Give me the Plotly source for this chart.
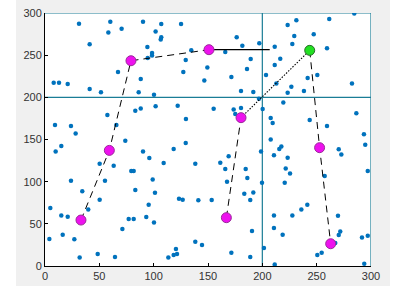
import plotly.graph_objects as go

# Blue scattered points
pts_x = [31.3, 60.1, 58.3, 70.5, 90.2, 107, 101.8, 107, 106.5, 125.2, 41.1, 94.2, 98.5, 98.5, 94.5, 134.6,
         129.5, 67.2, 127.3, 88.1, 8, 12.9, 20.9, 41.1, 51.5, 86.2, 100.3, 83.1, 88.1, 101.8, 122.1, 57.4,
         129.7, 9.2, 65.7, 23.9, 28.2, 73.9, 129.5,
         284.6, 261.6, 231.3, 223.3, 247.3, 229.4, 227.6, 176.4, 181.6, 197.2, 211.4, 165.9, 259.5, 189.3,
         216.5, 149.4, 185.9, 211.4, 171.5, 146.6, 203.4, 241.7, 250.6, 226.7, 212.9, 223.3, 238.3, 282.5,
         180.4, 191.7, 196.9, 155.2, 173.6, 180.4, 175.1, 200.3, 219.3, 207.7, 209.5, 243.6, 259.5, 286.5,
         293.5, 207.7,
         15, 9.8, 90.2, 96, 118.4, 50.3, 63.2, 109.2, 138.3, 79.4, 81.6, 23.9, 55.2, 99.1, 34.3, 83.1, 101.2,
         50.3, 95.4, 123.3, 126.7, 141.1, 4.9, 39.8, 15, 20.9, 93.2, 77, 81.6, 100.3, 71.2, 16.3, 4, 27, 138.3,
         120.5, 118.4, 121.5, 113.5, 48.5, 31.9, 64.4,
         198.8, 210.7, 169, 161.3, 223.3, 215.6, 217.5, 165.9, 184.7, 186.2, 221.5, 225.5, 167.5, 199.7,
         220.6, 183.4, 191.7, 188.9, 153.4, 210.7, 227.6, 235.9, 241.4, 210.7, 218.7, 190.5, 144.5, 201.5,
         171.5, 188.9, 211.4, 270.3, 272.7, 294.7, 297, 257.4, 269.6, 271.7, 270.3, 267.1, 291.7, 297,
         254.6, 250.6, 293.8]
pts_y = [287.3, 289.7, 277, 281.3, 289.7, 287, 278.2, 271.1, 268.5, 287, 262.8, 259.7, 252.6, 249.7, 246.6, 255.7,
         244.3, 230, 230, 221.7, 217.4, 217.4, 215.8, 209.9, 205.9, 205.9, 203.1, 184.2, 186.9, 189.3, 190.1, 179,
         174.3, 167.2, 167.2, 166, 157.2, 148.6, 145.9,
         299.5, 292.9, 291.3, 285.8, 274.7, 272.7, 263.2, 271.1, 261.2, 264, 260, 253.8, 258.2, 245.5,
         245.8, 235.5, 233.6, 238.3, 224.1, 220.1, 226.5, 222.9, 226.5, 212.6, 216.5, 205.5, 207.5, 216.5,
         207.5, 206.3, 198.4, 186.5, 185.7, 187.4, 180.2, 186.2, 194, 175.5, 169.6, 173.1, 166, 181,
         156.1, 150,
         142.3, 135.9, 135.9, 128.1, 138.7, 121.3, 118.9, 122.1, 121.3, 112.6, 112.6, 101.2, 101.2, 102.7, 88.5, 90.1, 86.9,
         78.6, 72.7, 79.8, 78.6, 78, 68.8, 67.1, 60, 58.5, 58.1, 55.7, 55.7, 51.7, 43.8, 37.1, 32, 31.6, 28.8,
         20.1, 13, 14.2, 10.2, 14.2, 10.2, 10.7,
         135.9, 131.2, 130, 122.5, 128.4, 138.7, 141.8, 115, 115, 104.4, 115.7, 109.8, 100, 98.8,
         98.8, 85.7, 87.3, 78.3, 78.3, 60, 60, 67.1, 72.7, 45.1, 37.1, 41.5, 24.9, 21.3,
         15.8, 10.7, 1.9, 138.3, 132.3, 143.8, 112.6, 106.7, 59.6, 41, 36.8, 27.3, 33.9, 35.9,
         15.8, 13, 2.7]

# Path 1 (dashed) and its solid tail
path1_x = [33.1, 59.2, 79.1, 150.9]
path1_y = [54.5, 137.1, 243.4, 256.5]
tail_x = [150.9, 206.8]
tail_y = [256.5, 256.5]

# Path 2: dashed up to magenta, dotted to green, dashed down
p2a_x = [166.9, 180.4]
p2a_y = [57.3, 175.9]
p2b_x = [180.4, 243.6]
p2b_y = [175.9, 255.7]
p2c_x = [243.6, 252.7, 262.9]
p2c_y = [255.7, 140.3, 26.4]

mag_x = [33.1, 59.2, 79.1, 150.9, 166.9, 180.4, 252.7, 262.9]
mag_y = [54.5, 137.1, 243.4, 256.5, 57.3, 175.9, 140.3, 26.4]
green_x = [243.6]
green_y = [255.7]

# Teal partition lines
vlines = [200, 300]
hlines = [200, 300]
ticks = [0, 50, 100, 150, 200, 250, 300]

teal = "#1a7d96"
fig = go.Figure()
fig.add_trace(go.Scatter(x=pts_x, y=pts_y, mode="markers",
                         marker=dict(size=4.5, color="#0072BD"), hoverinfo="skip"))
fig.add_trace(go.Scatter(x=path1_x, y=path1_y, mode="lines",
                         line=dict(color="black", width=1, dash="7px,5px")))
fig.add_trace(go.Scatter(x=tail_x, y=tail_y, mode="lines",
                         line=dict(color="black", width=1.3)))
fig.add_trace(go.Scatter(x=p2a_x, y=p2a_y, mode="lines",
                         line=dict(color="black", width=1, dash="7px,5px")))
fig.add_trace(go.Scatter(x=p2b_x, y=p2b_y, mode="lines",
                         line=dict(color="black", width=1.1, dash="1.5px,1.5px")))
fig.add_trace(go.Scatter(x=p2c_x, y=p2c_y, mode="lines",
                         line=dict(color="black", width=1, dash="7px,5px")))
fig.add_trace(go.Scatter(x=mag_x, y=mag_y, mode="markers",
                         marker=dict(size=10, color="#ee11ee", line=dict(color="#9a2a9a", width=1))))
fig.add_trace(go.Scatter(x=green_x, y=green_y, mode="markers",
                         marker=dict(size=10, color="#22e022", line=dict(color="#2a6a2a", width=1))))

shapes = [dict(type="rect", xref="paper", yref="paper",
               x0=(16 - 45) / 326, x1=(390 - 45) / 326,
               y0=(266 - 286) / 253, y1=1.1,
               fillcolor="#f0f0f0", line=dict(width=0), layer="below"),
          dict(type="rect", xref="paper", yref="paper", x0=0, x1=1, y0=0, y1=1,
               fillcolor="white", line=dict(width=0), layer="below")]
for v in vlines:
    shapes.append(dict(type="line", xref="x", yref="y", x0=v, x1=v, y0=0, y1=300,
                       line=dict(color=teal, width=1.2), layer="below"))
for h in hlines:
    shapes.append(dict(type="line", xref="x", yref="y", x0=0, x1=300, y0=h, y1=h,
                       line=dict(color=teal, width=1.2), layer="below"))

fig.update_layout(
    width=398, height=288,
    margin=dict(l=45, r=27, t=13, b=22, autoexpand=False),
    paper_bgcolor="white", plot_bgcolor="rgba(0,0,0,0)",
    showlegend=False, shapes=shapes,
    font=dict(family="Liberation Sans, Arial, sans-serif", size=11, color="#333333"),
)
fig.update_xaxes(range=[0, 300], tickvals=ticks, showgrid=False, zeroline=False,
                 showline=True, linecolor="black", linewidth=1, ticks="inside",
                 ticklen=3, tickcolor="black", fixedrange=True, automargin=False)
fig.update_yaxes(range=[0, 300], tickvals=ticks, showgrid=False, zeroline=False,
                 showline=True, linecolor="black", linewidth=1, ticks="inside",
                 ticklen=3, tickcolor="black", fixedrange=True, automargin=False)

fig.write_html("out.html")
